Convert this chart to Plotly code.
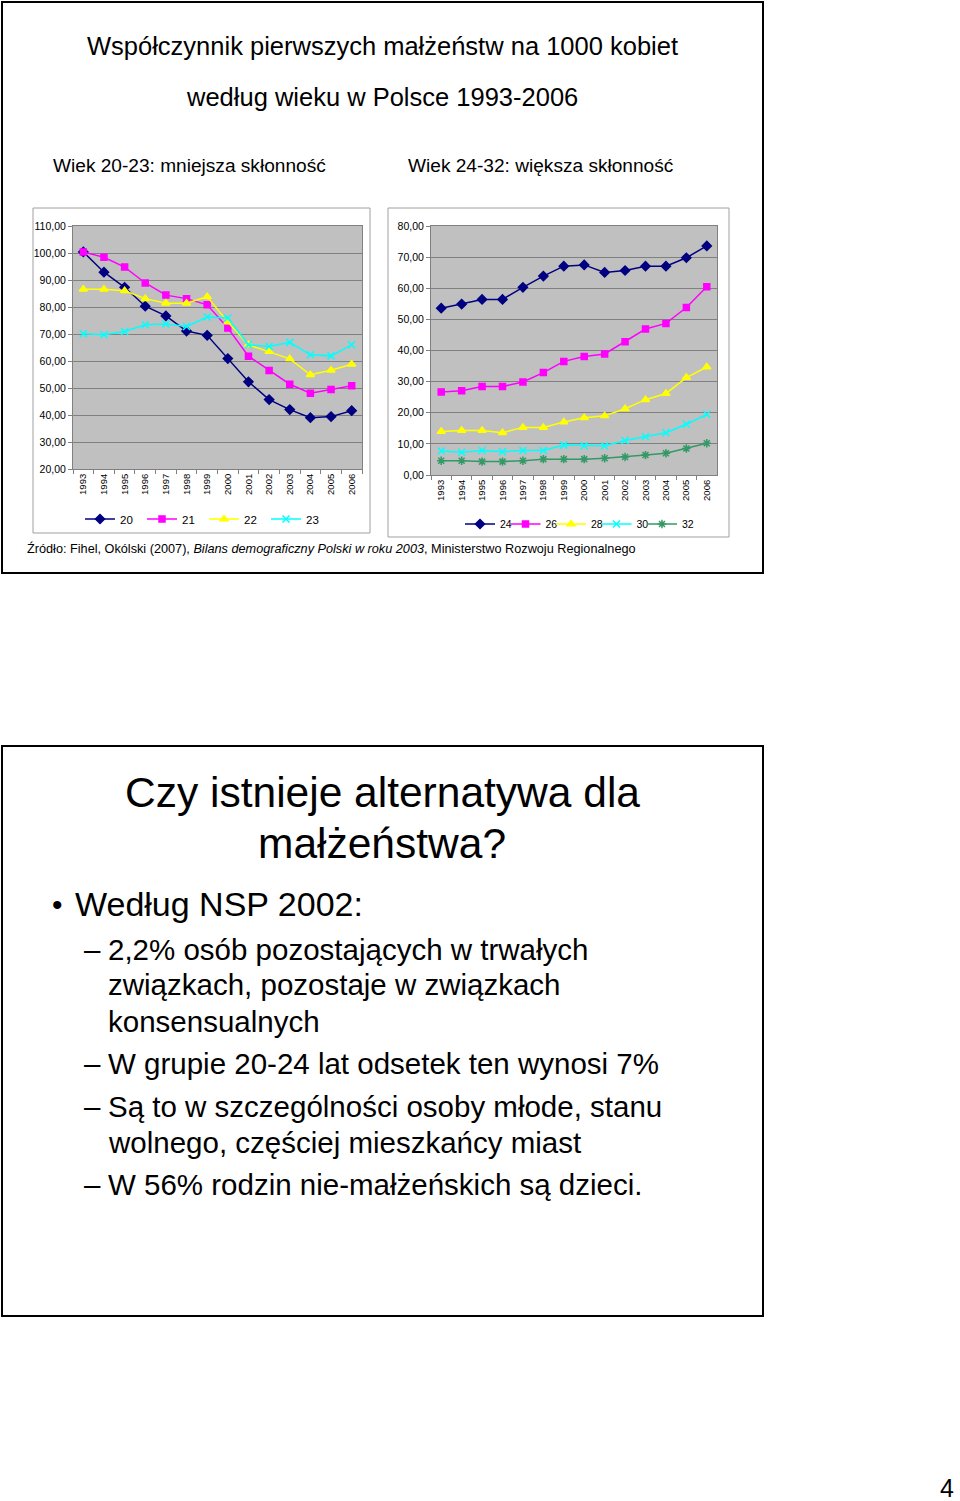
import plotly.graph_objects as go

W, H = 960, 1501

years = [str(y) for y in range(1993, 2007)]

# Left chart: ages 20-23
age20 = [100.4, 92.9, 87.3, 80.3, 76.7, 71.1, 69.5, 60.9, 52.3, 45.7, 42.0, 39.0, 39.4, 41.6]
age21 = [100.4, 98.4, 94.8, 88.9, 84.4, 83.1, 80.8, 72.2, 61.8, 56.5, 51.4, 48.1, 49.4, 50.8]
age22 = [86.6, 86.6, 86.0, 83.1, 81.4, 81.4, 83.8, 74.4, 66.0, 63.5, 60.8, 54.9, 56.6, 58.8]
age23 = [70.1, 69.7, 70.9, 73.4, 73.7, 72.8, 76.3, 75.9, 66.0, 65.4, 66.9, 62.3, 61.9, 66.0]

# Right chart: ages 24-32
age24 = [53.6, 54.9, 56.4, 56.4, 60.3, 63.9, 67.1, 67.5, 65.1, 65.7, 67.1, 67.1, 69.8, 73.6]
age26 = [26.7, 27.1, 28.4, 28.4, 29.9, 32.9, 36.5, 38.1, 38.9, 42.8, 46.9, 48.7, 53.8, 60.5]
age28 = [14.0, 14.3, 14.3, 13.6, 15.3, 15.3, 17.0, 18.4, 19.0, 21.3, 24.2, 26.2, 31.3, 34.7]
age30 = [7.7, 7.3, 7.9, 7.5, 7.9, 7.9, 9.6, 9.4, 9.4, 11.1, 12.3, 13.6, 16.3, 19.5]
age32 = [4.6, 4.6, 4.3, 4.3, 4.6, 5.1, 5.1, 5.1, 5.4, 5.8, 6.4, 7.0, 8.5, 10.2]

left_names = ["20", "21", "22", "23"]
right_names = ["24", "26", "28", "30", "32"]


def fx(px):
    return px / W


def fy(py):
    return 1 - py / H


FONT = "Liberation Sans, Arial, sans-serif"

styles = [
    dict(color="#000080", symbol="diamond", size=7),
    dict(color="#FF00FF", symbol="square", size=6),
    dict(color="#FFFF00", symbol="triangle-up", size=7),
    dict(color="#00FFFF", symbol="x-thin-open", size=7),
    dict(color="#339966", symbol="asterisk-open", size=7),
]

fig = go.Figure()

for i, (name, vals) in enumerate(zip(left_names, [age20, age21, age22, age23])):
    s = styles[i]
    fig.add_trace(go.Scatter(
        x=years, y=vals, name=name, mode="lines+markers",
        line=dict(color=s["color"], width=1.5),
        marker=dict(symbol=s["symbol"], size=s["size"], color=s["color"],
                    line=dict(color=s["color"], width=1.5)),
        xaxis="x", yaxis="y", legend="legend",
    ))

for i, (name, vals) in enumerate(zip(right_names, [age24, age26, age28, age30, age32])):
    s = styles[i]
    fig.add_trace(go.Scatter(
        x=years, y=vals, name=name, mode="lines+markers",
        line=dict(color=s["color"], width=1.5),
        marker=dict(symbol=s["symbol"], size=s["size"], color=s["color"],
                    line=dict(color=s["color"], width=1.5)),
        xaxis="x2", yaxis="y2", legend=f"legend{i + 2}",
    ))

axis_common = dict(
    showline=True, linecolor="#808080", linewidth=1, mirror=True,
    ticks="outside", ticklen=4, tickcolor="#808080",
    tickfont=dict(family=FONT, size=10.5, color="black"),
    zeroline=False, automargin=False,
)

xaxis_common = dict(
    axis_common, type="category", range=[-0.5, 13.5], showgrid=False,
    tickangle=-90, tickson="boundaries",
    tickfont=dict(family=FONT, size=9.5, color="black"),
)

shapes = [
    # outer slide boxes
    dict(type="rect", xref="paper", yref="paper", x0=fx(2), x1=fx(763), y0=fy(573), y1=fy(2),
         line=dict(color="black", width=2)),
    dict(type="rect", xref="paper", yref="paper", x0=fx(2), x1=fx(763), y0=fy(1316), y1=fy(746),
         line=dict(color="black", width=2)),
    # chart frames
    dict(type="rect", xref="paper", yref="paper", x0=fx(33), x1=fx(370), y0=fy(533), y1=fy(208),
         line=dict(color="#a0a0a0", width=1)),
    dict(type="rect", xref="paper", yref="paper", x0=fx(388), x1=fx(729), y0=fy(537), y1=fy(208),
         line=dict(color="#a0a0a0", width=1)),
]


def ann(text, x, y, size, xanchor="center", **kw):
    return dict(text=text, x=fx(x), y=fy(y), xref="paper", yref="paper",
                xanchor=xanchor, yanchor="middle", showarrow=False,
                font=dict(family=FONT, size=size, color="black"), **kw)


annotations = [
    ann("Współczynnik pierwszych małżeństw na 1000 kobiet", 382, 46, 25.5),
    ann("według wieku w Polsce 1993-2006", 382, 97, 25.5),
    ann("Wiek 20-23: mniejsza skłonność", 51, 166, 19.1, xanchor="left"),
    ann("Wiek 24-32: większa skłonność", 406, 166, 19.1, xanchor="left"),
    ann("Źródło: Fihel, Okólski (2007), <i>Bilans demograficzny Polski w roku 2003</i>, Ministerstwo Rozwoju Regionalnego",
        25, 548, 12.7, xanchor="left"),
    ann("Czy istnieje alternatywa dla", 382, 792, 42.5),
    ann("małżeństwa?", 382, 843, 42.5),
    ann("•", 50, 904, 30, xanchor="left"),
    ann("Według NSP 2002:", 73, 904, 34, xanchor="left"),
]

sub_lines = [
    ("–", "2,2% osób pozostających w trwałych", 949),
    ("", "związkach, pozostaje w związkach", 985),
    ("", "konsensualnych", 1021),
    ("–", "W grupie 20-24 lat odsetek ten wynosi 7%", 1063),
    ("–", "Są to w szczególności osoby młode, stanu", 1106),
    ("", "wolnego, częściej mieszkańcy miast", 1142),
    ("–", "W 56% rodzin nie-małżeńskich są dzieci.", 1184),
]
for dash, text, y in sub_lines:
    if dash:
        annotations.append(ann(dash, 82, y, 29.5, xanchor="left"))
    annotations.append(ann(text, 106, y, 29.5, xanchor="left"))

annotations.append(ann("4", 947, 1488, 25))

legend_common = dict(orientation="h", xanchor="left", yanchor="middle",
                     bgcolor="rgba(0,0,0,0)", itemwidth=30, tracegroupgap=0)

right_legends = {}
for i in range(len(right_names)):
    key = "legend" if i == -1 else f"legend{i + 2}"
    right_legends[key] = dict(legend_common, x=fx(460 + i * 45.5), y=fy(524),
                              font=dict(family=FONT, size=10.5, color="black"))

fig.update_layout(
    width=W, height=H,
    margin=dict(l=0, r=0, t=0, b=0, pad=0, autoexpand=False),
    paper_bgcolor="white",
    plot_bgcolor="#c0c0c0",
    separators=", ",
    showlegend=True,
    font=dict(family=FONT, color="black"),
    xaxis=dict(xaxis_common, domain=[fx(73), fx(362)], anchor="y"),
    yaxis=dict(axis_common, domain=[fy(469), fy(226)], anchor="x", range=[20, 110], dtick=10,
               tickformat=".2f", showgrid=True, gridcolor="#808080", gridwidth=1),
    xaxis2=dict(xaxis_common, domain=[fx(431), fx(717)], anchor="y2"),
    yaxis2=dict(axis_common, domain=[fy(475), fy(226)], anchor="x2", range=[0, 80], dtick=10,
                tickformat=".2f", showgrid=True, gridcolor="#808080", gridwidth=1),
    legend=dict(legend_common, x=fx(80), y=fy(519),
                font=dict(family=FONT, size=11.5, color="black"), entrywidth=17),
    **right_legends,
    shapes=shapes,
    annotations=annotations,
)

fig.write_html("out.html")
